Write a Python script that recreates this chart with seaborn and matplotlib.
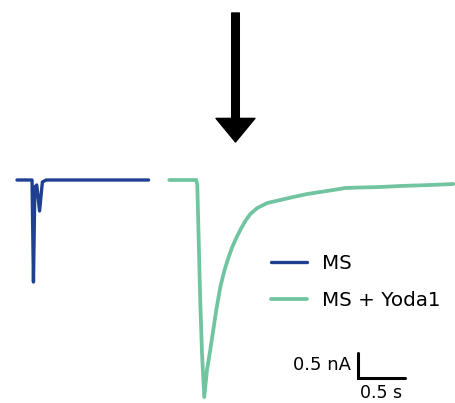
import matplotlib
matplotlib.use("Agg")
import matplotlib.pyplot as plt
import pandas as pd
import seaborn as sns

# traces: time (s), current (nA)
ms_time = [0.0, 0.16, 0.175, 0.19, 0.21, 0.24, 0.27, 0.31, 0.6, 1.0, 1.40]
ms_current = [0.0, 0.0, -2.04, -0.14, -0.10, -0.62, -0.04, 0.0, 0.0, 0.0, 0.0]

yoda_time = [0.0, 0.287, 0.298, 0.312, 0.330, 0.348, 0.372, 0.401, 0.436, 0.468,
             0.500, 0.543, 0.585, 0.628, 0.670, 0.713, 0.755, 0.809, 0.862, 0.936,
             1.043, 1.181, 1.319, 1.468, 1.606, 1.745, 1.872, 2.032, 2.245, 2.457,
             2.777, 3.021]
yoda_current = [0.0, 0.0, -0.10, -1.13, -2.46, -3.46, -4.34, -3.80, -3.40, -3.00,
                -2.60, -2.14, -1.82, -1.56, -1.34, -1.16, -1.00, -0.82, -0.68, -0.56,
                -0.46, -0.40, -0.34, -0.28, -0.24, -0.20, -0.16, -0.15, -0.14, -0.12,
                -0.10, -0.08]
yoda_offset = 1.62  # second trace drawn to the right of the first

labels = ["MS", "MS + Yoda1"]
colors = ["#1F4091", "#70C4A0"]

scale_nA = 0.5
scale_s = 0.5

sns.set_style("white")
plt.rcParams["font.family"] = ["DejaVu Sans"]
plt.rcParams["text.color"] = "black"

fig = plt.figure(figsize=(4.55, 4.03), dpi=100)
ax = fig.add_axes([0, 0, 1, 1])

df_ms = pd.DataFrame({"t": ms_time, "I": ms_current})
df_yoda = pd.DataFrame({"t": [t + yoda_offset for t in yoda_time], "I": yoda_current})

sns.lineplot(data=df_ms, x="t", y="I", color=colors[0], lw=2.4, sort=False,
             estimator=None, label=labels[0], ax=ax)
sns.lineplot(data=df_yoda, x="t", y="I", color=colors[1], lw=2.7, sort=False,
             estimator=None, label=labels[1], ax=ax)

ax.set_xlim(-17 / 94, 438 / 94)
ax.set_ylim(-223 / 50, 180 / 50)
ax.axis("off")

# scale bar
x0, y0 = 3.628, -3.96
ax.plot([x0, x0, x0 + scale_s], [y0 + scale_nA, y0, y0], color="black", lw=2.2,
        solid_joinstyle="miter")
ax.text(x0 - 0.07, y0 + scale_nA / 2, f"{scale_nA} nA", ha="right", va="center", fontsize=13)
ax.text(x0 + scale_s / 2, y0 - 0.12, f"{scale_s} s", ha="center", va="top", fontsize=12.5)

# stimulus arrow
ax.annotate("", xy=(235.5, 403 - 142), xytext=(235.5, 403 - 13),
            xycoords="figure pixels", textcoords="figure pixels",
            arrowprops=dict(facecolor="black", edgecolor="black", width=5.5,
                            headwidth=28, headlength=17, shrink=0))

ax.legend(loc="upper left", bbox_to_anchor=(253 / 455, 1 - 236 / 403), frameon=False,
          fontsize=14.3, handlelength=1.8, handletextpad=0.75, labelspacing=0.9)

fig.savefig("out.png", dpi=100)
